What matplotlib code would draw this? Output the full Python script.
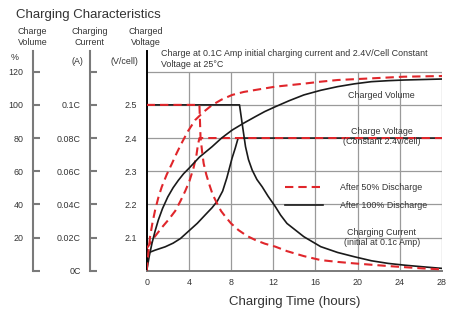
import matplotlib
matplotlib.use("Agg")
import matplotlib.pyplot as plt

plt.rcParams['font.family'] = ['Liberation Sans', 'DejaVu Sans']
plt.rcParams['lines.scale_dashes'] = False

# ---------------- data ----------------
hours_ticks = [0, 4, 8, 12, 16, 20, 24, 28]

vol_ticks = [0, 20, 40, 60, 80, 100, 120]
vol_labels = ['', '20', '40', '60', '80', '100', '120']
cur_ticks = [0, 0.02, 0.04, 0.06, 0.08, 0.10, 0.12]
cur_labels = ['0C', '0.02C', '0.04C', '0.06C', '0.08C', '0.1C', '']
volt_ticks = [2.1, 2.2, 2.3, 2.4, 2.5]
volt_labels = ['2.1', '2.2', '2.3', '2.4', '2.5']

# Charged volume (%)
t_vol_100 = [0, 0.25, 0.5, 0.8, 1.1, 1.5, 2.0, 2.5, 3.0, 3.5, 4.0, 5.0, 6.2, 7.1, 8.1, 9.2, 10.3, 11.2,
             12.2, 13.5, 14.9, 16.5, 18.1, 19.7, 21.3, 22.9, 24.4, 26.2, 28]
vol_100 = [0, 9, 16.5, 24, 30.5, 37.5, 44.5, 50, 54.5, 58.5, 61.7, 68.5, 74.8, 80, 84.8, 89, 92.9, 96,
           98.9, 102.5, 106, 108.8, 111, 112.7, 114, 114.6, 115, 115.3, 115.6]
t_vol_50 = [0, 0.15, 0.32, 0.55, 0.8, 1.1, 1.43, 1.9, 2.4, 2.85, 3.3, 3.9, 4.6, 5.4, 6.2, 7.1, 8.1,
            9.2, 10.3, 12.2, 14.9, 16.5, 18.1, 21.3, 24.4, 28]
vol_50 = [0, 10.5, 20.5, 29, 36.6, 44, 50.6, 58, 64.7, 71, 76.8, 84, 90.9, 95.8, 99.9, 103.2, 106,
          107.8, 109, 111, 112.8, 114, 115, 116, 117, 117.4]

# Charge voltage (V/cell)
t_volt_100 = [0, 0.8, 1.75, 2.5, 3.2, 4.0, 4.8, 5.6, 6.2, 6.7, 7.2, 7.6, 8.1, 8.4, 8.67, 28]
volt_100 = [2.052, 2.062, 2.072, 2.083, 2.097, 2.12, 2.143, 2.17, 2.19, 2.21, 2.24, 2.28, 2.34, 2.37,
            2.40, 2.40]
t_volt_50 = [0, 0.7, 1.43, 2.1, 2.7, 3.2, 3.65, 4.05, 4.44, 4.7, 4.86, 5.0, 28]
volt_50 = [2.067, 2.10, 2.13, 2.155, 2.18, 2.21, 2.24, 2.27, 2.31, 2.345, 2.38, 2.40, 2.40]

# Charging current (C)
t_cur_100 = [0, 8.8, 9.05, 9.37, 9.65, 10.0, 10.45, 10.95, 11.5, 12.2, 12.7, 13.3, 14.9, 16.5, 18.1,
             19.7, 21.3, 22.9, 24.5, 26.1, 28]
cur_100 = [0.1, 0.1, 0.0888, 0.0748, 0.067, 0.0607, 0.055, 0.0506, 0.045, 0.0386, 0.0335, 0.0285,
           0.0205, 0.0145, 0.011, 0.0084, 0.006, 0.0044, 0.0033, 0.0024, 0.0014]
t_cur_50 = [0, 5.0, 5.1, 5.25, 5.4, 5.65, 5.9, 6.25, 6.67, 7.05, 7.46, 8.0, 8.7, 9.5, 10.3, 11.2,
            12.2, 13.3, 14.9, 16.5, 18.1, 19.7, 21.3, 22.9, 24.5, 26.1, 28]
cur_50 = [0.1, 0.1, 0.081, 0.072, 0.0647, 0.058, 0.0527, 0.046, 0.0406, 0.036, 0.0326, 0.0285,
          0.0245, 0.021, 0.0185, 0.0163, 0.0145, 0.0118, 0.0088, 0.0064, 0.0053, 0.0044, 0.0036,
          0.0028, 0.0021, 0.0014, 0.0008]

# ---------------- figure ----------------
W, H = 457, 315
fig = plt.figure(figsize=(W / 100, H / 100), dpi=100)

def fx(px):
    return px / W

def fy(py):
    return 1 - py / H

TXT = '#333333'
GRID = '#9a9a9a'
AXG = '#7a7a7a'
RED = '#e0262b'
BLK = '#1a1a1a'
SMALL = 6.4

left_px, right_px, bot_px, top_px = 146.7, 442.0, 270.7, 51.0
ax = fig.add_axes([fx(left_px), fy(bot_px), fx(right_px - left_px), (bot_px - top_px) / H])
ax.set_facecolor('none')

top_frac = 132.5  # volume units at top of axes
ax.set_xlim(0, 28)
ax.set_ylim(2.0, 2.0 + top_frac / 200)

# grid
ax.hlines([2.1, 2.2, 2.3, 2.4, 2.5, 2.6], 0, 28, color=GRID, lw=0.9, zorder=1)
ax.vlines(hours_ticks[1:], 2.0, 2.6, color=GRID, lw=0.9, zorder=1)

for s in ['top', 'right']:
    ax.spines[s].set_visible(False)
ax.spines['left'].set_color('black')
ax.spines['left'].set_linewidth(1.4)
ax.spines['bottom'].set_color(AXG)
ax.spines['bottom'].set_linewidth(1.4)

ax.set_xticks(hours_ticks)
ax.set_xticklabels([str(h) for h in hours_ticks])
ax.tick_params(axis='x', length=0, pad=5, labelsize=SMALL, labelcolor=TXT)
ax.set_yticks(volt_ticks)
ax.set_yticklabels(volt_labels)
ax.tick_params(axis='y', length=0, pad=6.8, labelsize=SMALL, labelcolor=TXT)
ax.set_xlabel('Charging Time (hours)', fontsize=9.5, color=TXT, labelpad=7)

# voltage curves
ax.plot(t_volt_100, volt_100, color=BLK, lw=1.2, zorder=3)
ax.plot(t_volt_50, volt_50, color=RED, lw=1.5, dashes=(6, 3.6), zorder=4)

# volume axis
ax_vol = ax.twinx()
ax_vol.set_ylim(0, top_frac)
ax_vol.yaxis.set_ticks_position('left')
ax_vol.yaxis.set_label_position('left')
for s in ['top', 'right', 'bottom']:
    ax_vol.spines[s].set_visible(False)
ax_vol.spines['left'].set_visible(True)
ax_vol.spines['left'].set_position(('outward', (left_px - 33.3) * 0.72))
ax_vol.spines['left'].set_color(AXG)
ax_vol.spines['left'].set_linewidth(1.5)
ax_vol.set_yticks(vol_ticks)
ax_vol.set_yticklabels(vol_labels)
ax_vol.tick_params(axis='y', direction='in', length=5, width=1.5, color=AXG, pad=7,
                   labelsize=SMALL, labelcolor=TXT)
ax_vol.plot(t_vol_100, vol_100, color=BLK, lw=1.2, zorder=3)
ax_vol.plot(t_vol_50, vol_50, color=RED, lw=1.5, dashes=(6, 3.6), zorder=4)

# current axis
ax_cur = ax.twinx()
ax_cur.set_ylim(0, top_frac / 1000)
ax_cur.yaxis.set_ticks_position('left')
ax_cur.yaxis.set_label_position('left')
for s in ['top', 'right', 'bottom']:
    ax_cur.spines[s].set_visible(False)
ax_cur.spines['left'].set_visible(True)
ax_cur.spines['left'].set_position(('outward', (left_px - 90.0) * 0.72))
ax_cur.spines['left'].set_color(AXG)
ax_cur.spines['left'].set_linewidth(1.5)
ax_cur.set_yticks(cur_ticks)
ax_cur.set_yticklabels(cur_labels)
ax_cur.tick_params(axis='y', direction='in', length=5, width=1.5, color=AXG, pad=6.5,
                   labelsize=SMALL, labelcolor=TXT)
l100, = ax_cur.plot(t_cur_100, cur_100, color=BLK, lw=1.2, zorder=3, label='After 100% Discharge')
l50, = ax_cur.plot(t_cur_50, cur_50, color=RED, lw=1.5, dashes=(6, 3.6), zorder=4, label='After 50% Discharge')

leg = ax_cur.legend(handles=[l50, l100], loc='center left',
                    bbox_to_anchor=(fx(285), fy(196.4)), bbox_transform=fig.transFigure,
                    frameon=False, fontsize=SMALL, handlelength=4.3, handletextpad=1.9,
                    labelspacing=0.95, borderpad=0, borderaxespad=0)
for t in leg.get_texts():
    t.set_color(TXT)

# ---------------- texts ----------------
fig.text(fx(16), fy(18.3), 'Charging Characteristics', fontsize=9.5, color=TXT, va='baseline', ha='left')
fig.text(fx(32.5), fy(37), 'Charge\nVolume', fontsize=SMALL, color=TXT, ha='center', va='center', linespacing=1.2)
fig.text(fx(89.5), fy(37), 'Charging\nCurrent', fontsize=SMALL, color=TXT, ha='center', va='center', linespacing=1.2)
fig.text(fx(146), fy(37), 'Charged\nVoltage', fontsize=SMALL, color=TXT, ha='center', va='center', linespacing=1.2)
fig.text(fx(15), fy(58), '%', fontsize=SMALL, color=TXT, ha='center', va='center')
fig.text(fx(77), fy(62), '(A)', fontsize=SMALL, color=TXT, ha='center', va='center')
fig.text(fx(124), fy(62), '(V/cell)', fontsize=SMALL, color=TXT, ha='center', va='center')
fig.text(fx(160.7), fy(59), 'Charge at 0.1C Amp initial charging current and 2.4V/Cell Constant\nVoltage at 25°C',
         fontsize=SMALL, color=TXT, ha='left', va='center', linespacing=1.2)

fig.text(fx(381.7), fy(95.7), 'Charged Volume', fontsize=SMALL, color=TXT, ha='center', va='center')
fig.text(fx(381.7), fy(136.7), 'Charge Voltage\n(Constant 2.4v/cell)', fontsize=SMALL, color=TXT,
         ha='center', va='center', linespacing=1.2)
fig.text(fx(381.7), fy(237.5), 'Charging Current\n(initial at 0.1c Amp)', fontsize=SMALL, color=TXT,
         ha='center', va='center', linespacing=1.2)

fig.savefig('out.png', dpi=100)
